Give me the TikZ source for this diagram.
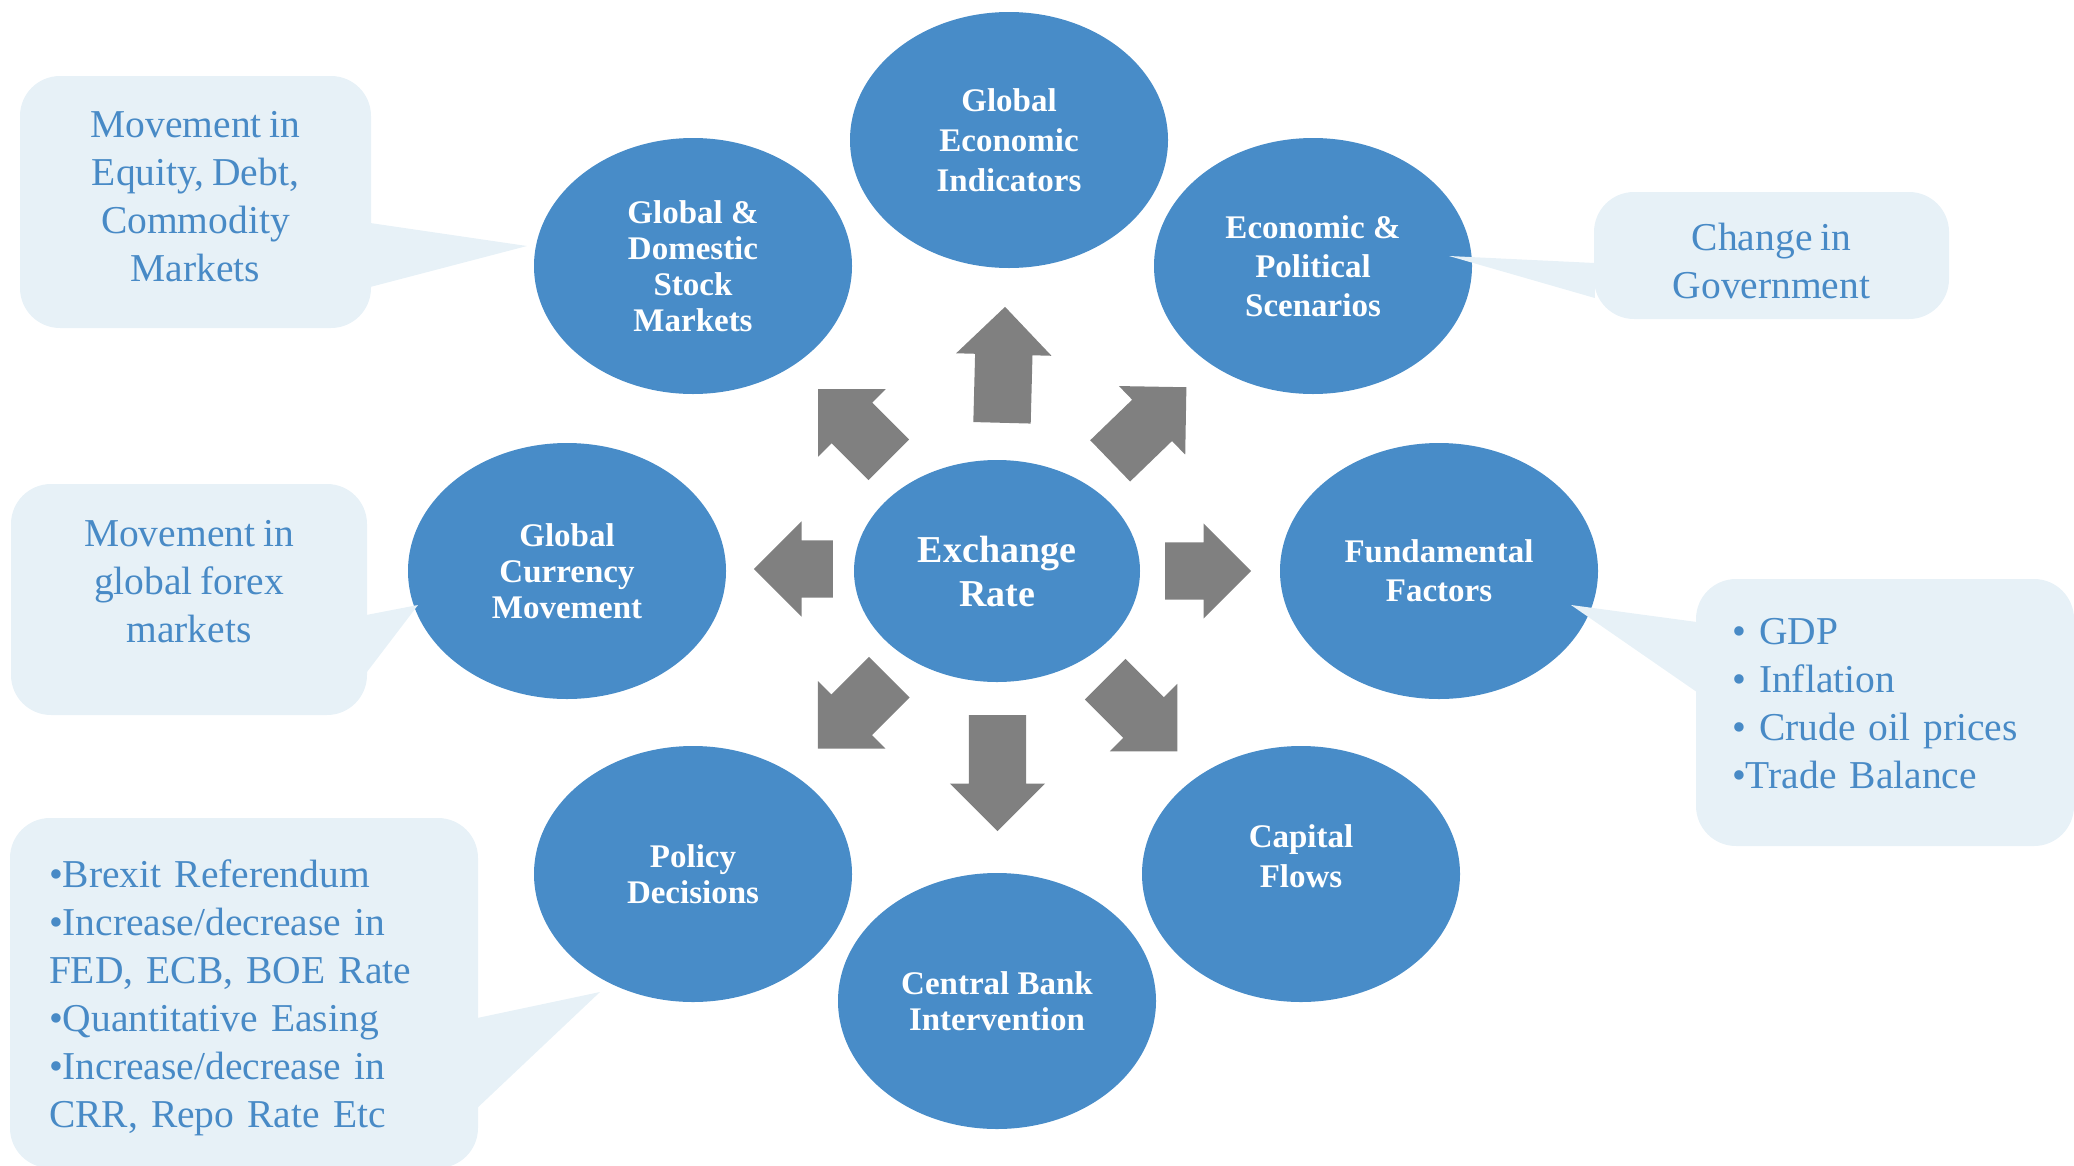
\documentclass[tikz,border=0pt]{standalone}
\usepackage{fontspec}
\setmainfont{Liberation Serif}
\newfontfamily\notefont{Liberation Serif}[WordSpace=0.8]
\usetikzlibrary{positioning,calc,shapes.geometric,shapes.arrows}

\definecolor{bubbleblue}{RGB}{72,140,200}
\definecolor{arrowgray}{RGB}{128,128,128}
\definecolor{notefill}{RGB}{231,241,247}
\definecolor{notetext}{RGB}{72,138,198}

\tikzset{
  bubble/.style={ellipse, fill=bubbleblue, text=white, align=center, inner sep=0pt,
    minimum width=318pt, minimum height=256pt, font=\fontsize{33}{36}\selectfont\bfseries},
  blockarrow/.style={single arrow, fill=arrowgray, inner xsep=0pt, inner ysep=28.5pt, anchor=tail,
    minimum width=95pt, single arrow head extend=19pt, single arrow tip angle=90},
  note/.style={rectangle, rounded corners=40pt, fill=notefill, inner sep=0pt},
  notelabel/.style={text=notetext, inner sep=0pt, font=\notefont\fontsize{39.5}{48}\selectfont},
}

\begin{document}
\begin{tikzpicture}[x=1pt, y=-1pt, on grid]
 \useasboundingbox (0,0) rectangle (2074,1165);
 % centre
 \node [bubble, minimum width=286pt, minimum height=222pt,
   font=\fontsize{38}{44}\selectfont\bfseries] (rate) at (997,571) {Exchange\\Rate};
 % factors round it
 \node [bubble, above right=431pt and 12pt of rate,
   font=\fontsize{33}{40}\selectfont\bfseries] (indicators) {Global\\Economic\\Indicators};
 \node [bubble, above left=305pt and 304pt of rate] (stock) {Global \&\\Domestic\\Stock\\Markets};
 \node [bubble, above right=305pt and 316pt of rate,
   font=\fontsize{33}{39}\selectfont\bfseries] (politics) {Economic \&\\Political\\Scenarios};
 \node [bubble, left=430pt of rate] (currency) {Global\\Currency\\Movement};
 \node [bubble, right=442pt of rate,
   font=\fontsize{33}{39}\selectfont\bfseries] (fundamental) {Fundamental\\Factors};
 \node [bubble, below left=303pt and 304pt of rate] (policy) {Policy\\Decisions};
 \node [bubble, below right=303pt and 304pt of rate, text depth=36pt,
   font=\fontsize{33}{40}\selectfont\bfseries] (capital) {Capital\\Flows};
 \node [bubble, below=430pt of rate] (central) {Central Bank\\Intervention};

 % block arrows out of the centre
 \node [blockarrow, minimum height=116pt, rotate=88.5] (arrowN) at ($(rate)+(5,-148)$) {};
 \node [blockarrow, minimum height=116pt, rotate=-90] (arrowS) at ($(rate)+(0.5,144)$) {};
 \node [blockarrow, minimum height=79pt, rotate=180] (arrowW) at ($(rate)+(-164,-2)$) {};
 \node [blockarrow, minimum height=86pt, rotate=0] (arrowE) at ($(rate)+(168,0)$) {};
 \node [blockarrow, minimum height=100pt, rotate=135] (arrowNW) at ($(rate)+(-108,-111)$) {};
 \node [blockarrow, minimum height=106pt, rotate=44] (arrowNE) at ($(rate)+(113,-110)$) {};
 \node [blockarrow, minimum height=101pt, rotate=-135] (arrowSW) at ($(rate)+(-107.5,106)$) {};
 \node [blockarrow, minimum height=102pt, rotate=-45] (arrowSE) at ($(rate)+(108,108)$) {};

 % callouts
 \node [note, minimum width=351pt, minimum height=252pt] (noteStock) at (195.5,202) {};
 \coordinate (tipStock) at ($(stock)+(-166,-20)$);
 \fill [notefill] ($(noteStock.east)+(-1,21)$) -- (tipStock) -- ($(noteStock.east)+(-1,85)$) -- cycle;
 \node [notelabel, align=center, yshift=5pt] (stockText) at (noteStock)
   {Movement in\\Equity, Debt,\\Commodity\\Markets};

 \node [note, minimum width=355pt, minimum height=127pt] (notePolitics) at (1771.5,255.5) {};
 \coordinate (tipPolitics) at ($(politics)+(136,-10)$);
 \fill [notefill] ($(notePolitics.west)+(1,7.5)$) -- (tipPolitics) -- ($(notePolitics.west)+(1,42.5)$) -- cycle;
 \node [notelabel, align=center, yshift=-5pt] (politicsText) at (notePolitics) {Change in\\Government};

 \node [note, minimum width=356pt, minimum height=231pt] (noteCurrency) at (189,599.5) {};
 \coordinate (tipCurrency) at ($(currency)+(-149,34)$);
 \fill [notefill] ($(noteCurrency.east)+(-1,15.5)$) -- (tipCurrency) -- ($(noteCurrency.east)+(-1,73.5)$) -- cycle;
 \node [notelabel, align=center, yshift=18pt] (currencyText) at (noteCurrency)
   {Movement in\\global forex\\markets};

 \node [note, minimum width=378pt, minimum height=267pt] (noteFund) at (1885,712.5) {};
 \coordinate (tipFund) at ($(fundamental)+(132,34)$);
 \fill [notefill] ($(noteFund.west)+(1,-90.5)$) -- (tipFund) -- ($(noteFund.west)+(1,-20.5)$) -- cycle;
 \node [notelabel, text width=306pt, align=left, yshift=9pt] (fundText) at (noteFund)
   {• GDP\\• Inflation\\• Crude oil prices\\•Trade Balance};

 \node [note, minimum width=468pt, minimum height=350pt] (notePolicy) at (244,993) {};
 \coordinate (tipPolicy) at ($(policy)+(-93,118)$);
 \fill [notefill] ($(notePolicy.east)+(-1,25)$) -- (tipPolicy) -- ($(notePolicy.east)+(-1,115)$) -- cycle;
 \node [notelabel, text width=390pt, align=left, yshift=-5pt] (policyText) at (notePolicy)
   {•Brexit Referendum\\•Increase/decrease in\\FED, ECB, BOE Rate\\•Quantitative Easing\\%
    •Increase/decrease in\\CRR, Repo Rate Etc};
\end{tikzpicture}
\end{document}
